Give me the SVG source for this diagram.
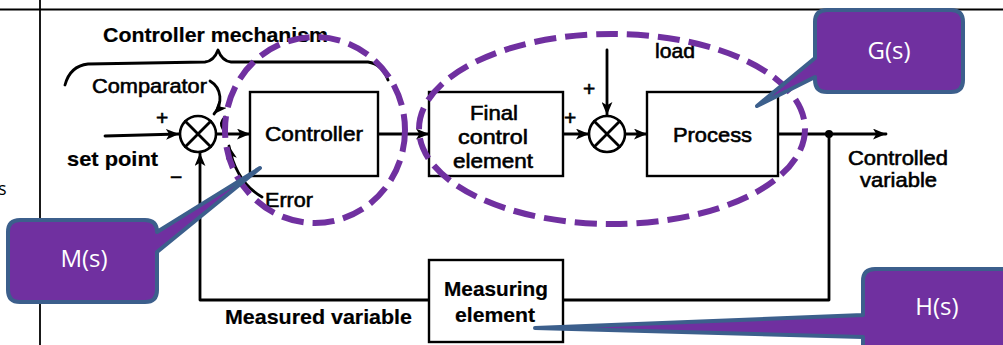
<svg xmlns="http://www.w3.org/2000/svg" width="1003" height="345" viewBox="0 0 1003 345">
  <style>
    .ln { fill: none; stroke: #000; stroke-width: 2.8; stroke-linecap: round; stroke-linejoin: round; }
    .bx { fill: #fff; stroke: #000; stroke-width: 2.4; }
    .sum { fill: #fff; stroke: #000; stroke-width: 2.6; }
    .tx { font-family: "Liberation Sans", Arial, sans-serif; font-size: 21px; fill: #000; stroke: #000; stroke-width: 0.6; }
    .bold { font-weight: bold; stroke-width: 0.2; }
    .ring { fill: none; stroke: #7030A0; stroke-width: 6; stroke-dasharray: 22 9; }
    .call { fill: #7030A0; stroke: #3C5F8C; stroke-width: 4; stroke-linejoin: round; }
    .ctx { font-family: "Open Sans", "Noto Sans", sans-serif; font-size: 24px; fill: #fff; text-anchor: middle; }
    .tbl { stroke: #000; stroke-width: 1.8; fill: none; }
  </style>
  <defs>
    <marker id="arr" viewBox="0 0 12 10" refX="12" refY="5" markerWidth="13" markerHeight="11" markerUnits="userSpaceOnUse" orient="auto">
      <path d="M0,0 L12,5 L0,10 L3,5 Z" fill="#000"/>
    </marker>
  </defs>

  <rect width="1003" height="345" fill="#fff"/>

  <!-- table rules around the figure -->
  <g id="table">
    <line class="tbl" x1="0" y1="9.5" x2="1003" y2="9.5"/>
    <line class="tbl" x1="40" y1="0" x2="40" y2="345"/>
    <text x="-2" y="195" font-family="Open Sans, sans-serif" font-size="18" fill="#000">s</text>
  </g>

  <!-- brace and heading for the controller mechanism -->
  <g id="mechanism">
    <text class="tx bold" x="103" y="42" textLength="225" lengthAdjust="spacingAndGlyphs">Controller mechanism</text>
    <path class="ln" d="M65,85 Q70,66 88,64 L205,62 Q214,61 218,50 Q222,61 231,62 L368,62 Q382,64 388,80" stroke-width="3"/>
  </g>

  <!-- connectors -->
  <g id="connectors">
    <path class="ln" d="M105,136 L179,134" marker-end="url(#arr)"/>
    <path class="ln" d="M216,134 L250,134" marker-end="url(#arr)"/>
    <path class="ln" d="M378,134 L429,134" marker-end="url(#arr)"/>
    <path class="ln" d="M563,134 L589,134" marker-end="url(#arr)"/>
    <path class="ln" d="M625,134 L647,134" marker-end="url(#arr)"/>
    <path class="ln" d="M778,134 L886,134" marker-end="url(#arr)"/>
    <path class="ln" d="M607,50 L607,115" marker-end="url(#arr)"/>
    <path class="ln" d="M829,134 L829,300 L563,300"/>
    <path class="ln" d="M429,300 L200,300 L200,153" marker-end="url(#arr)"/>
    <circle cx="829" cy="134" r="4" fill="#000"/>
    <!-- pointer from the comparator label -->
    <path class="ln" d="M210,81 C222,88 223,104 214,114" marker-end="url(#arr)"/>
    <path class="ln" d="M225,117 Q219,123 223,129" stroke-width="2"/>
    <!-- pointer from the error label -->
    <path class="ln" d="M262,197 Q236,182 229,146" marker-end="url(#arr)"/>
  </g>

  <g id="comparator">
    <circle class="sum" cx="198" cy="134" r="18"/>
    <path class="ln" d="M185.3,121.3 L210.7,146.7 M210.7,121.3 L185.3,146.7" stroke-width="2.2"/>
    <text class="tx" x="92" y="93" textLength="115" lengthAdjust="spacingAndGlyphs">Comparator</text>
    <text class="tx" x="156" y="125" font-size="23">+</text>
    <text class="tx" x="170" y="184" font-size="23">−</text>
  </g>

  <g id="set-point">
    <text class="tx bold" x="67" y="166" textLength="91" lengthAdjust="spacingAndGlyphs">set point</text>
  </g>

  <g id="controller">
    <rect class="bx" x="250" y="92" width="128" height="84"/>
    <text class="tx" x="265" y="141" textLength="98" lengthAdjust="spacingAndGlyphs">Controller</text>
  </g>

  <g id="error">
    <text class="tx" x="265" y="207" textLength="48" lengthAdjust="spacingAndGlyphs">Error</text>
  </g>

  <g id="final-control-element">
    <rect class="bx" x="429" y="92" width="134" height="84"/>
    <text class="tx" x="470" y="120" textLength="48" lengthAdjust="spacingAndGlyphs">Final</text>
    <text class="tx" x="458" y="144" textLength="70" lengthAdjust="spacingAndGlyphs">control</text>
    <text class="tx" x="453" y="168" textLength="80" lengthAdjust="spacingAndGlyphs">element</text>
    <text class="tx" x="564" y="125" font-size="23">+</text>
  </g>

  <g id="load-summing">
    <circle class="sum" cx="607" cy="134" r="18"/>
    <path class="ln" d="M594.3,121.3 L619.7,146.7 M619.7,121.3 L594.3,146.7" stroke-width="2.2"/>
    <text class="tx" x="583" y="96" font-size="23">+</text>
    <text class="tx" x="655" y="58" textLength="40" lengthAdjust="spacingAndGlyphs">load</text>
  </g>

  <g id="process">
    <rect class="bx" x="647" y="92" width="131" height="84"/>
    <text class="tx" x="673" y="142" textLength="79" lengthAdjust="spacingAndGlyphs">Process</text>
  </g>

  <g id="controlled-variable">
    <text class="tx" x="848" y="165" textLength="100" lengthAdjust="spacingAndGlyphs">Controlled</text>
    <text class="tx" x="860" y="187" textLength="77" lengthAdjust="spacingAndGlyphs">variable</text>
  </g>

  <g id="measuring-element">
    <rect class="bx" x="429" y="260" width="134" height="82"/>
    <text class="tx bold" x="444" y="296" textLength="104" lengthAdjust="spacingAndGlyphs">Measuring</text>
    <text class="tx bold" x="455" y="322" textLength="80" lengthAdjust="spacingAndGlyphs">element</text>
  </g>

  <g id="measured-variable">
    <text class="tx bold" x="225" y="324" textLength="187" lengthAdjust="spacingAndGlyphs">Measured variable</text>
  </g>

  <!-- dashed groupings -->
  <g id="groupings">
    <ellipse class="ring" cx="315" cy="130" rx="90" ry="93"/>
    <ellipse class="ring" cx="612" cy="129" rx="193" ry="95"/>
  </g>

  <!-- transfer-function callouts -->
  <g id="callout-G">
    <path class="call" d="M827,10 H951 Q963,10 963,22 V80 Q963,92 951,92 H827 Q815,92 815,80 V77 L757,106 L815,58 V22 Q815,10 827,10 Z"/>
    <text class="ctx" x="889" y="59">G(s)</text>
  </g>
  <g id="callout-M">
    <path class="call" d="M20,220 H145 Q157,220 157,232 V232 L260,168 L157,252 V290 Q157,302 145,302 H20 Q8,302 8,290 V232 Q8,220 20,220 Z"/>
    <text class="ctx" x="84" y="267">M(s)</text>
  </g>
  <g id="callout-H">
    <path class="call" d="M875,269 H1020 V360 H875 Q863,360 863,348 V337 L535,328 L863,315 V281 Q863,269 875,269 Z"/>
    <text class="ctx" x="937" y="315">H(s)</text>
  </g>
</svg>
